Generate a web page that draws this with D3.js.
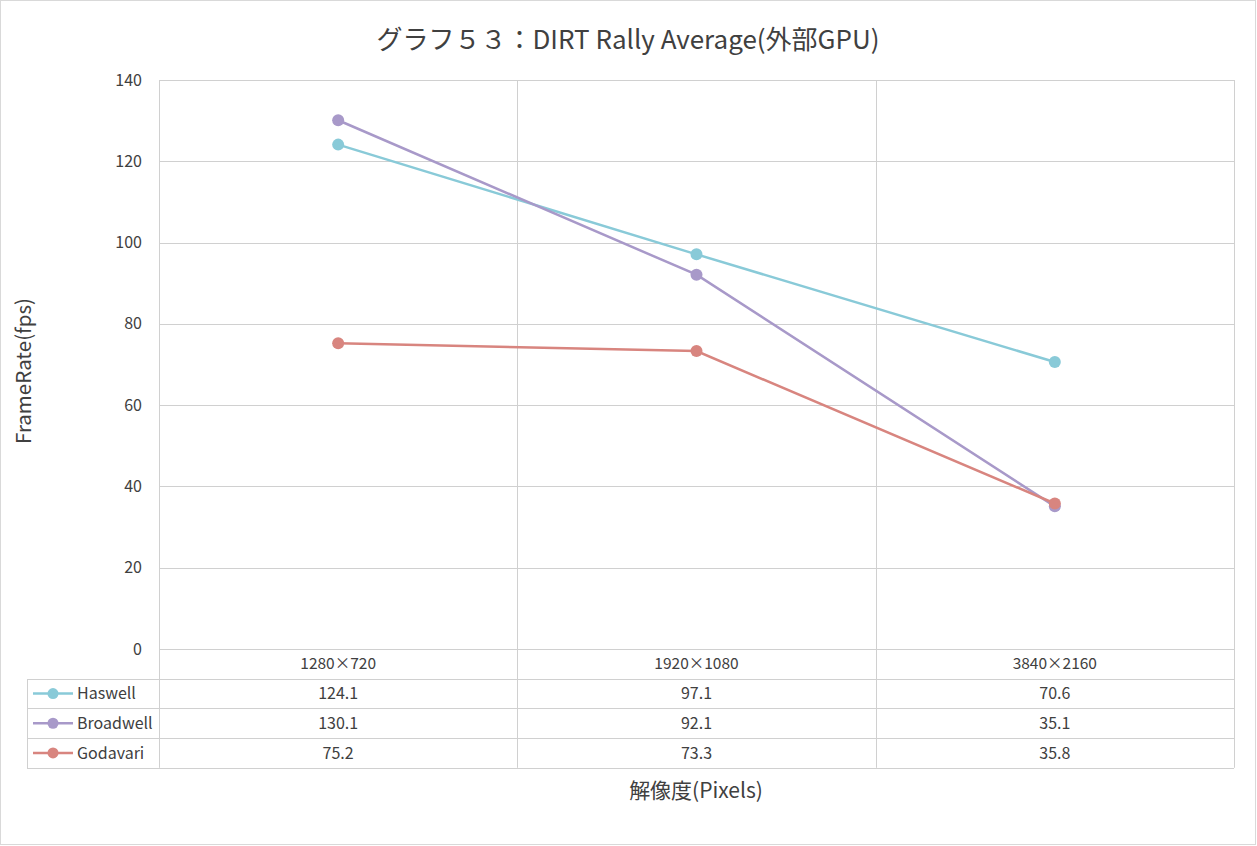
<!DOCTYPE html>
<html><head><meta charset="utf-8">
<script src="https://cdn.jsdelivr.net/npm/d3@7"></script>
<style>body{margin:0;background:#fff}svg{display:block}</style>
</head><body>
<script>
const categories = ["1280×720","1920×1080","3840×2160"];
const seriesNames = ["Haswell","Broadwell","Godavari"];
const haswell = [124.1, 97.1, 70.6];
const broadwell = [130.1, 92.1, 35.1];
const godavari = [75.2, 73.3, 35.8];
const yTicks = [0,20,40,60,80,100,120,140];
const colors = ["#89cad8","#a899c9","#d8857f"];
const seriesValues = [haswell, broadwell, godavari];

const W=1257,H=846;
const font = "'Noto Sans CJK JP','Noto Sans',sans-serif";
const svg = d3.select("body").append("svg").attr("width",W).attr("height",H);
svg.append("rect").attr("x",0.5).attr("y",0.5).attr("width",W-2).attr("height",H-2).attr("fill","#fff").attr("stroke","#d9d9d9");

const L=159,R=1234,T=80,B=649;
const x = d3.scaleBand().domain(categories).range([L,R]);
const y = d3.scaleLinear().domain([0,140]).range([B,T]);
const rowH = 29.7;
const tableBottom = B + rowH*4;
const grid = "#d0d0d0";
const txt = "#404040";

svg.append("g").selectAll("line").data(yTicks).join("line")
  .attr("x1",L).attr("x2",R).attr("y1",d=>Math.round(y(d))+0.5).attr("y2",d=>Math.round(y(d))+0.5)
  .attr("stroke",grid);
const vx = categories.map(c=>x(c)).concat([R]);
svg.append("g").selectAll("line").data(vx).join("line")
  .attr("x1",d=>Math.round(d)+0.5).attr("x2",d=>Math.round(d)+0.5)
  .attr("y1",T).attr("y2",tableBottom).attr("stroke",grid);
for(let i=1;i<=4;i++){
  const yy = Math.round(B+rowH*i)+0.5;
  svg.append("line").attr("x1",27).attr("x2",R).attr("y1",yy).attr("y2",yy).attr("stroke",grid);
}
svg.append("line").attr("x1",27.5).attr("x2",27.5).attr("y1",Math.round(B+rowH)).attr("y2",Math.round(tableBottom)+0.5).attr("stroke",grid);

svg.append("g").selectAll("text").data(yTicks).join("text")
  .attr("x",142).attr("y",d=>y(d)).attr("dy","0.35em").attr("text-anchor","end")
  .attr("font-family",font).attr("font-size",16).attr("fill",txt).text(d=>d);

svg.append("g").selectAll("text").data(categories).join("text")
  .attr("x",d=>x(d)+x.bandwidth()/2).attr("y",B+rowH/2).attr("dy","0.35em").attr("text-anchor","middle")
  .attr("font-family",font).attr("font-size",15.5).attr("fill",txt).text(d=>d);

seriesValues.forEach((vals,i)=>{
  const cy = B+rowH*(i+1)+rowH/2;
  svg.append("g").selectAll("text").data(vals).join("text")
    .attr("x",(d,j)=>x(categories[j])+x.bandwidth()/2).attr("y",cy).attr("dy","0.35em").attr("text-anchor","middle")
    .attr("font-family",font).attr("font-size",16).attr("fill",txt).text(d=>d.toFixed(1));
  svg.append("line").attr("x1",33).attr("x2",73).attr("y1",cy).attr("y2",cy).attr("stroke",colors[i]).attr("stroke-width",2.5);
  svg.append("circle").attr("cx",53).attr("cy",cy).attr("r",5.5).attr("fill",colors[i]);
  svg.append("text").attr("x",77).attr("y",cy).attr("dy","0.35em").attr("font-family",font).attr("font-size",16).attr("fill",txt).text(seriesNames[i]);
});

const line = d3.line().x((d,j)=>x(categories[j])+x.bandwidth()/2).y(d=>y(d));
seriesValues.forEach((vals,i)=>{
  svg.append("path").datum(vals).attr("d",line).attr("fill","none").attr("stroke",colors[i]).attr("stroke-width",2.5);
});
seriesValues.forEach((vals,i)=>{
  svg.append("g").selectAll("circle").data(vals).join("circle")
    .attr("cx",(d,j)=>x(categories[j])+x.bandwidth()/2).attr("cy",d=>y(d)).attr("r",6).attr("fill",colors[i]);
});

svg.append("text").attr("x",628).attr("y",40).attr("dy","0.35em").attr("text-anchor","middle")
  .attr("font-family",font).attr("font-size",26).attr("fill",txt).text("グラフ５３：DIRT Rally Average(外部GPU)");
svg.append("text").attr("transform","translate(24,371) rotate(-90)").attr("dy","0.35em").attr("text-anchor","middle")
  .attr("font-family",font).attr("font-size",20.5).attr("fill",txt).text("FrameRate(fps)");
svg.append("text").attr("x",696).attr("y",791).attr("dy","0.35em").attr("text-anchor","middle")
  .attr("font-family",font).attr("font-size",21).attr("fill",txt).text("解像度(Pixels)");
</script>
</body></html>
